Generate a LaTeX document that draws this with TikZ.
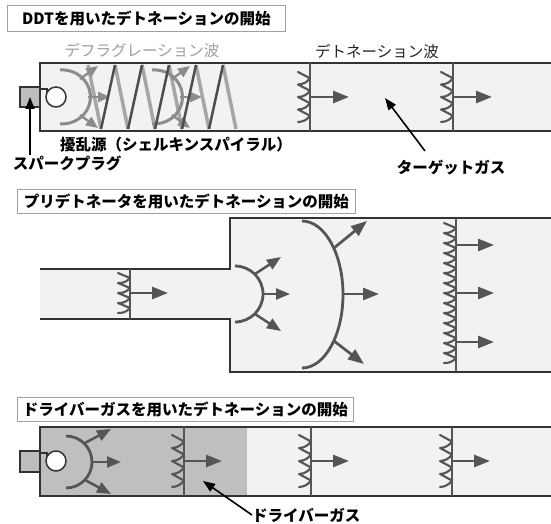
\documentclass[tikz,border=0pt]{standalone}
\usepackage{fontspec}
\setmainfont{Noto Sans CJK JP}
\usetikzlibrary{arrows.meta}

\definecolor{wallc}{HTML}{333333}
\definecolor{gasfill}{HTML}{F2F2F2}
\definecolor{driverfill}{HTML}{BFBFBF}
\definecolor{frontgray}{HTML}{555555}
\definecolor{flamegray}{HTML}{8C8C8C}
\definecolor{coillight}{HTML}{A6A6A6}
\definecolor{coildark}{HTML}{4D4D4D}
\definecolor{plugfill}{HTML}{BDBDBD}
\definecolor{boxline}{HTML}{A0A0A0}

% a detonation front: wall-to-wall line with a toothed edge behind it
% #1 x, #2 top, #3 bottom, #4 first tooth y, #5 tooth pitch, #6 tooth count
\newcommand{\wavefront}[6]{%
  \draw[frontline] (#1,#2) -- (#1,#3);
  \draw[teeth] (#1-12,#4) \foreach \i in {1,...,#6}{ -- ++(12,#5/2) to[bend left=25] ++(-12,#5/2)};
}

\begin{document}
\begin{tikzpicture}[x=1pt,y=-1pt,
  wall/.style={draw=wallc, line width=2.3pt},
  frontline/.style={draw=frontgray, line width=2.5pt},
  teeth/.style={draw=frontgray, line width=2.1pt, line join=round, line cap=round},
  push/.style={draw=frontgray, line width=2.7pt, -{Triangle[length=16pt,width=12pt]}},
  smallpush/.style={draw=frontgray, line width=2.5pt, -{Triangle[length=14pt,width=11pt]}},
  flame/.style={draw=flamegray, line width=3pt},
  flamepush/.style={draw=flamegray, line width=2.4pt, -{Triangle[length=12pt,width=10pt]}},
  burnfront/.style={draw=frontgray, line width=2.8pt},
  plug/.style={draw=wallc, line width=1.8pt, fill=plugfill},
  electrode/.style={draw=wallc, line width=1.5pt},
  txt/.style={inner sep=0pt, font=\fontsize{15.5}{17}\selectfont},
  boldtxt/.style={txt, font=\bfseries\fontsize{15.5}{17}\selectfont},
  pointer/.style={draw=black, line width=1.6pt, -{Triangle[length=12pt,width=9pt]}},
  titlebox/.style={draw=boxline, fill=white, line width=0.8pt, inner sep=0pt,
    anchor=north west, font=\bfseries\fontsize{15.5}{17}\selectfont}
]
\path[use as bounding box, fill=white] (0,0) rectangle (551,524);
\clip (0,0) rectangle (551,524);

%% ---------- DDT ----------
\node[titlebox, minimum width=278, minimum height=26] (title1) at (7,5) {DDTを用いたデトネーションの開始};

\path[fill=gasfill] (40,63) rectangle (560,131);
\draw[wall] (560,63) -- (40,63) -- (40,131) -- (560,131);

% Shchelkin spiral: back strokes light, front strokes dark
\foreach \t in {88,115,142,169,196,223}
  \draw[coillight, line width=3.5pt] (\t,65) -- (\t+13,129);

% deflagration fronts
\foreach \c in {60,152}{
  \draw[flame] (\c,70) arc[start angle=-95, end angle=95, x radius=28, y radius=27];
  \draw[flamepush] (\c+20,79) -- (\c+38,66);
  \draw[flamepush] (\c+28,97) -- (\c+50,97);
  \draw[flamepush] (\c+20,115) -- (\c+38,128);
}

\foreach \b in {101,128,155,182,209}
  \draw[coildark, line width=2.5pt] (\b,129) -- (\b+14,65);

% ignition
\draw[plug] (20,87) rectangle (40,107);
\draw[electrode] (40,89) -- (47,89) -- (47,95);
\draw[electrode, fill=white] (56,97) circle[radius=10];

% detonation fronts
\wavefront{310}{63}{131}{72}{12.5}{4}
\draw[push] (310,97) -- (349,97);
\wavefront{453}{63}{131}{72}{12.5}{4}
\draw[push] (453,97) -- (492,97);

\node[txt, text=gray!75] (deflag) at (142,51) {デフラグレーション波};
\node[txt, text=black!85] (detlabel) at (377,52) {デトネーション波};
\node[boldtxt] (spiral) at (176,145) {擾乱源（シェルキンスパイラル）};
\node[boldtxt] (sparkplug) at (67,163) {スパークプラグ};
\node[boldtxt] (target) at (451,168) {ターゲットガス};

\coordinate (plugtip) at (30,97);
\coordinate (targettail) at (425,151);
\coordinate (targetgas) at (385,98);
\draw[pointer] (sparkplug.north -| plugtip) -- (plugtip);
\draw[pointer] (targettail) -- (targetgas);

%% ---------- predetonator ----------
\node[titlebox, minimum width=338, minimum height=24] (title2) at (17,189) {プリデトネータを用いたデトネーションの開始};

\path[fill=gasfill] (40,269) -- (230,269) -- (230,218) -- (560,218) -- (560,372)
  -- (230,372) -- (230,319) -- (40,319) -- cycle;
\draw[wall] (40,269) -- (230,269) -- (230,218) -- (560,218);
\draw[wall] (40,319) -- (230,319) -- (230,372) -- (560,372);

\wavefront{130}{269}{319}{273}{10}{4}
\draw[push] (130,293) -- (168,293);

% diffracting front at the step
\draw[burnfront] (235,266) arc[start angle=-90, end angle=90, radius=28];
\draw[smallpush] (255,274) -- (281,257);
\draw[smallpush] (263,294) -- (290,294);
\draw[smallpush] (255,314) -- (281,331);

\draw[burnfront] (302,221) arc[start angle=-90, end angle=90, x radius=41, y radius=73.5];
\draw[push] (334,248) -- (367,221);
\draw[push] (343,294) -- (379,294);
\draw[push] (334,341) -- (364,364);

\wavefront{456}{218}{372}{223}{10}{14}
\foreach \y in {245,293,342}
  \draw[push] (456,\y) -- (494,\y);

%% ---------- driver gas ----------
\node[titlebox, minimum width=336, minimum height=24] (title3) at (17,397) {ドライバーガスを用いたデトネーションの開始};

\path[fill=gasfill] (40,427) rectangle (560,496);
\path[fill=driverfill] (40,427) rectangle (247,496);
\draw[wall] (560,427) -- (40,427) -- (40,496) -- (560,496);

\draw[plug] (20,451) rectangle (40,472);
\draw[electrode] (40,453) -- (47,453) -- (47,459);
\draw[electrode, fill=white] (56,461) circle[radius=10];

\draw[burnfront] (66,436) arc[start angle=-90, end angle=90, radius=26];
\draw[smallpush] (85,443) -- (111,429);
\draw[smallpush] (92,462) -- (121,462);
\draw[smallpush] (85,480) -- (111,494);

\foreach \x in {184,311,452}{
  \wavefront{\x}{427}{496}{435}{13}{4}
  \draw[push] (\x,461) -- (\x+38,461);
}

\node[boldtxt, anchor=west] (driver) at (252,515) {ドライバーガス};
\coordinate (drivergas) at (203,481);
\draw[pointer] (driver.west) -- (drivergas);
\end{tikzpicture}
\end{document}
